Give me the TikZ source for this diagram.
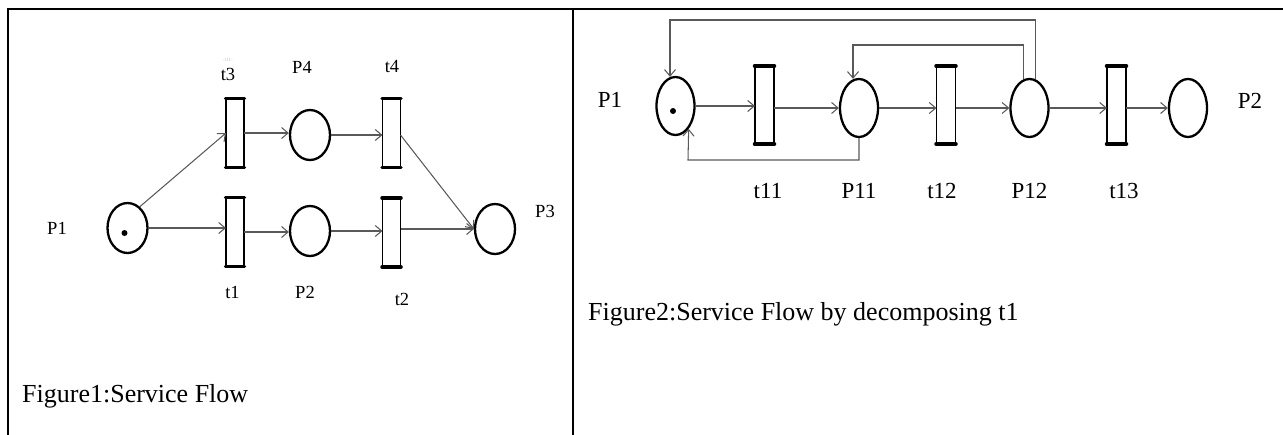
\documentclass[tikz,border=0pt]{standalone}
\usepackage{fontspec}
\setmainfont{Liberation Serif}
\usetikzlibrary{shapes.geometric,arrows.meta}
\begin{document}
\begin{tikzpicture}[x=1pt,y=-1pt,
  place/.style={ellipse,draw,line width=2.3pt,minimum width=40pt,minimum height=50pt,inner sep=0pt},
  placeb/.style={place,minimum width=38pt,minimum height=58pt},
  trans/.style={rectangle,draw,line width=1.6pt,minimum width=18pt,minimum height=69pt,inner sep=0pt,outer sep=0pt},
  transb/.style={trans,minimum width=19pt,minimum height=78pt},
  arc/.style={draw=black!65,line width=1.05pt,-{Straight Barb[length=6.5pt,width=11pt]}},
  lab/.style={inner sep=0pt,font=\fontsize{18.5}{20}\selectfont},
  labb/.style={inner sep=0pt,anchor=base,font=\fontsize{23}{26}\selectfont},
  captext/.style={inner sep=0pt,anchor=base west,font=\fontsize{26}{30}\selectfont},
  frame/.style={line width=2pt,line cap=rect},
  bar/.style={line width=3.5pt,line cap=round}]
\useasboundingbox (0,0) rectangle (1283,434);
% frame
\draw[frame] (8,434) -- (8,9) -- (1283,9);
\draw[frame] (573,9) -- (573,434);
\newcommand{\tbars}[1]{%
  \draw[bar] ([xshift=-0.5pt]#1.north west) -- ([xshift=0.5pt]#1.north east);
  \draw[bar] ([xshift=-0.5pt]#1.south west) -- ([xshift=0.5pt]#1.south east);}
% ---------- Figure 1 ----------
\node[place] (P1a) at (127.5,228) {};
\node[place] (P4) at (310,135) {};
\node[place] (P2a) at (310,231) {};
\node[place] (P3) at (495,229) {};
\node[trans] (t3) at (235,133) {};
\node[trans] (t1) at (235,232) {};
\node[trans] (t4) at (391.5,133) {};
\node[trans] (t2) at (391.5,232.5) {};
\tbars{t3}\tbars{t1}\tbars{t4}\tbars{t2}
\fill (P1a.center) ++(-3,5) circle (3pt);
\draw[arc] (P1a.60) -- (t3.west);
\draw[arc] (P1a.east) -- (P1a.east -| t1.west);
\draw[arc] (t3.east) -- (t3.east -| P4.west);
\draw[arc] (P4.east) -- (P4.east -| t4.west);
\draw[arc] (t1.east) -- (t1.east -| P2a.west);
\draw[arc] (P2a.east) -- (P2a.east -| t2.west);
\draw[arc] ([yshift=-2pt]t4.east) -- (P3.west);
\draw[arc] (t2.east |- P3.west) -- (P3.west);
\node[lab] (lP1a) at (57,228) {P1};
\node[inner sep=0pt,font=\fontsize{5}{5}\selectfont,text=black!25] (ghost) at (228,60) {-t11-};
\node[lab] (lt3) at (228,74) {t3};
\node[lab] (lP4) at (302,67) {P4};
\node[lab] (lt4) at (392,67) {t4};
\node[lab] (lt1) at (232.5,292) {t1};
\node[lab] (lP2a) at (305,292) {P2};
\node[lab] (lt2) at (402,299) {t2};
\node[lab] (lP3) at (545,211) {P3};
\node[captext] (cap1) at (22,402) {Figure1:Service Flow};
% ---------- Figure 2 ----------
\node[placeb] (P1b) at (675.5,106) {};
\node[transb] (t11) at (764.5,105) {};
\node[placeb] (P11) at (859,108) {};
\node[transb] (t12) at (946,105) {};
\node[placeb] (P12) at (1029.5,108) {};
\node[transb] (t13) at (1116.5,105) {};
\node[placeb] (P2b) at (1188,108) {};
\tbars{t11}\tbars{t12}\tbars{t13}
\fill (P1b.center) ++(-2.5,5) circle (3pt);
\draw[arc] (P1b.east) -- (P1b.east -| t11.west);
\draw[arc] (t11.east |- P11.west) -- (P11.west);
\draw[arc] (P11.east) -- (P11.east -| t12.west);
\draw[arc] (t12.east |- P12.west) -- (P12.west);
\draw[arc] (P12.east) -- (P12.east -| t13.west);
\draw[arc] (t13.east |- P2b.west) -- (P2b.west);
\coordinate (o2) at (670,20);
\coordinate (i2) at (853,45);
\coordinate (b1) at (688,160);
\draw[arc] (P12.79) |- (o2) -- (o2 |- P1b.100);
\draw[arc] (P12.101) |- (i2) -- (i2 |- P11.100);
\draw[arc] (P11.south) |- (b1) -- (P1b.-60);
\node[labb] (lP1b) at (610,107.5) {P1};
\node[labb] (lP2b) at (1250,108.5) {P2};
\node[labb] (lt11) at (768,198.5) {t11};
\node[labb] (lP11) at (859,198.5) {P11};
\node[labb] (lt12) at (942,198.5) {t12};
\node[labb] (lP12) at (1029.5,198.5) {P12};
\node[labb] (lt13) at (1124,198.5) {t13};
\node[captext] (cap2) at (588,320) {Figure2:Service Flow by decomposing t1};
\end{tikzpicture}
\end{document}
